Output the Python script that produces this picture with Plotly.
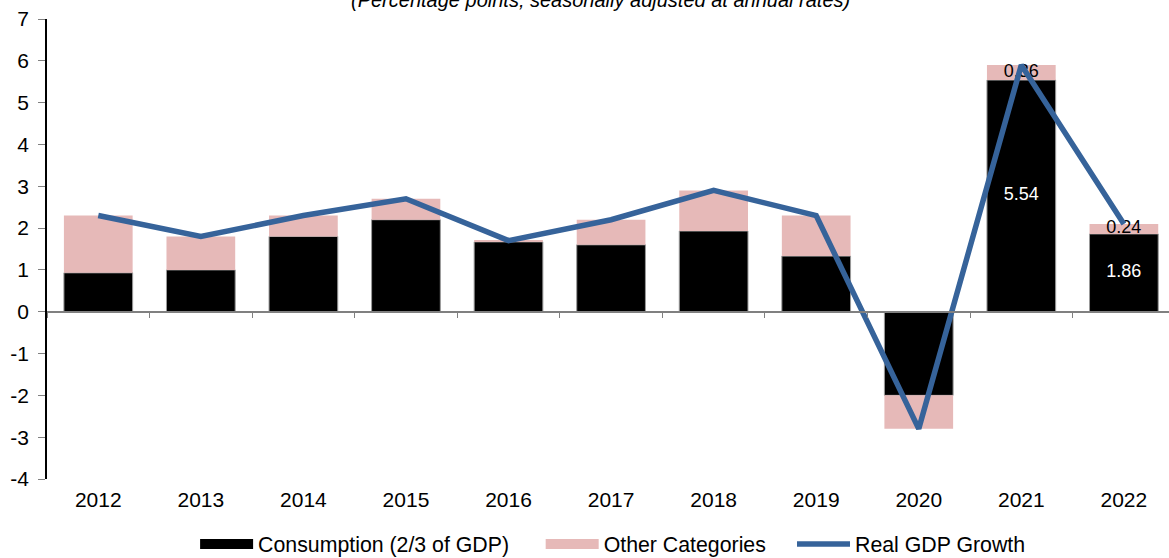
import plotly.graph_objects as go

years = ["2012", "2013", "2014", "2015", "2016", "2017", "2018", "2019", "2020", "2021", "2022"]
consumption = [0.93, 1.00, 1.80, 2.20, 1.67, 1.60, 1.93, 1.33, -2.00, 5.54, 1.86]
other = [1.37, 0.80, 0.50, 0.50, 0.03, 0.60, 0.97, 0.97, -0.80, 0.36, 0.24]
gdp = [2.3, 1.8, 2.3, 2.7, 1.7, 2.2, 2.9, 2.3, -2.8, 5.9, 2.1]
labeled_years = ["2021", "2022"]
y_ticks = [-4, -3, -2, -1, 0, 1, 2, 3, 4, 5, 6, 7]
y_tick_text = ["-4", "-3", "-2", "-1", "0", "1", "2", "3", "4", "5", "6", "7"]
title_text = "(Percentage points; seasonally adjusted at annual rates)"

FONT = "Liberation Sans, Arial, sans-serif"
BLACK = "#000000"
PINK = "#E6B9B8"
BLUE = "#36639A"

fig = go.Figure()
fig.add_trace(go.Bar(
    x=years, y=consumption, name="Consumption (2/3 of GDP)", showlegend=False,
    marker=dict(color=BLACK, line=dict(color="#9a9a9a", width=1)),
    width=0.67,
))
fig.add_trace(go.Bar(
    x=years, y=other, name="Other Categories", showlegend=False,
    marker=dict(color=PINK, line=dict(width=0)),
    width=0.67,
))

# value labels (drawn beneath the line)
lab_idx = [years.index(y) for y in labeled_years]
fig.add_trace(go.Scatter(
    x=[years[i] for i in lab_idx], y=[consumption[i] / 2 for i in lab_idx],
    mode="text", text=[f"{consumption[i]:.2f}" for i in lab_idx],
    textfont=dict(color="white", size=18, family=FONT), showlegend=False, hoverinfo="skip",
))
fig.add_trace(go.Scatter(
    x=[years[i] for i in lab_idx], y=[consumption[i] + other[i] / 2 for i in lab_idx],
    mode="text", text=[f"{other[i]:.2f}" for i in lab_idx],
    textfont=dict(color="black", size=18, family=FONT), showlegend=False, hoverinfo="skip",
))

fig.add_trace(go.Scatter(
    x=years, y=gdp, name="Real GDP Growth", mode="lines", showlegend=False,
    line=dict(color=BLUE, width=5.5),
))

# legend-only entries (wide rectangular swatches like the original)
fig.add_trace(go.Scatter(x=[None], y=[None], mode="lines", name="Consumption (2/3 of GDP)",
                         line=dict(color=BLACK, width=12), legend="legend"))
fig.add_trace(go.Scatter(x=[None], y=[None], mode="lines", name="Other Categories",
                         line=dict(color=PINK, width=12), legend="legend2"))
fig.add_trace(go.Scatter(x=[None], y=[None], mode="lines", name="Real GDP Growth",
                         line=dict(color=BLUE, width=5.5), legend="legend3"))

# invisible trace on the mid axis to draw the zero-line axis with boundary ticks
fig.add_trace(go.Scatter(x=years, y=[None] * len(years), xaxis="x2", showlegend=False,
                         hoverinfo="skip", mode="lines"))

leg_common = dict(orientation="h", xanchor="left", y=-0.097, yanchor="top",
                  font=dict(size=21.3, family=FONT), itemwidth=53,
                  bgcolor="rgba(0,0,0,0)")

fig.update_layout(
    width=1169, height=558,
    barmode="relative",
    plot_bgcolor="white", paper_bgcolor="white",
    margin=dict(l=47, r=0, t=19, b=79, autoexpand=False),
    font=dict(family=FONT, color="black", size=21),
    showlegend=True,
    legend=dict(x=0.132, **leg_common),
    legend2=dict(x=0.440, **leg_common),
    legend3=dict(x=0.664, **leg_common),
    xaxis=dict(
        type="category", range=[-0.5, 10.44], showline=False, ticks="",
        showgrid=False, zeroline=False, tickfont=dict(size=21),
        ticklabelstandoff=6,
        categoryorder="array", categoryarray=years,
    ),
    xaxis2=dict(
        type="category", range=[-0.5, 10.44], overlaying="x", anchor="free",
        position=4 / 11, showline=True, linecolor="#808080", linewidth=1.5,
        ticks="outside", ticklen=6, tickcolor="#808080", tickwidth=1,
        tickson="boundaries", showticklabels=False, showgrid=False, zeroline=False,
        categoryorder="array", categoryarray=years,
    ),
    yaxis=dict(
        range=[-4, 7], tickvals=y_ticks, ticktext=y_tick_text,
        showgrid=False, zeroline=False,
        showline=True, linecolor="black", linewidth=1.5,
        ticks="outside", ticklen=7, tickcolor="#808080",
        tickfont=dict(size=21), ticklabelstandoff=5,
    ),
    annotations=[dict(
        text="<i>" + title_text + "</i>", xref="paper", yref="paper", x=0.493, y=1,
        xanchor="center", yanchor="bottom", yshift=6, showarrow=False,
        font=dict(size=20, family=FONT, color="black"),
    )],
)

fig.write_html("out.html", config={"displayModeBar": False},
               post_script="document.body.style.margin='0';document.body.style.overflow='hidden';")
